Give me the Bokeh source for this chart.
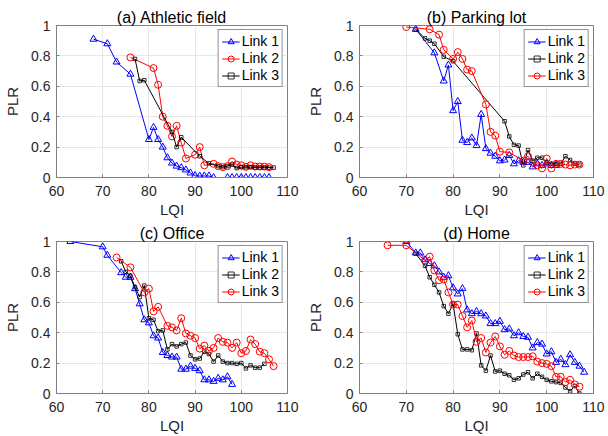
from bokeh.plotting import figure
from bokeh.layouts import gridplot
from bokeh.models import Range1d, FixedTicker
from bokeh.embed import file_html
from bokeh.resources import INLINE

FONT = "Liberation Sans"
X_TICKS = [60, 70, 80, 90, 100, 110]
Y_TICKS = [0, 0.2, 0.4, 0.6, 0.8, 1.0]
Y_TICK_LABELS = ["0", "0.2", "0.4", "0.6", "0.8", "1"]
TITLES = ["(a) Athletic field", "(b) Parking lot", "(c) Office", "(d) Home"]

# (a) Athletic field
A_L1_X = [68, 71, 73, 76, 80, 81, 82, 83, 84, 85, 86, 87, 88, 89, 90, 91, 92, 93, 94,
          97, 98, 99, 100, 101, 102, 103, 104, 105, 106]
A_L1_Y = [0.91, 0.88, 0.76, 0.68, 0.25, 0.33, 0.25, 0.20, 0.13, 0.095, 0.075, 0.065, 0.05,
          0.03, 0.013, 0.01, 0.01, 0.01, 0.0, 0, 0, 0, 0, 0, 0, 0, 0, 0, 0]
A_L2_X = [76, 81, 82, 83, 84, 85, 86, 87, 88, 90, 91, 92, 94, 95, 96, 97, 98, 99, 100,
          101, 102, 103, 104, 105, 106]
A_L2_Y = [0.79, 0.72, 0.61, 0.40, 0.34, 0.27, 0.34, 0.23, 0.125, 0.15, 0.20, 0.08, 0.09,
          0.075, 0.068, 0.075, 0.105, 0.085, 0.08, 0.07, 0.08, 0.072, 0.072, 0.072, 0.068]
A_L3_X = [77, 78, 79, 85, 86, 87, 91, 93, 95, 96, 97, 98, 99, 100, 101, 102, 103, 104,
          105, 106, 107]
A_L3_Y = [0.78, 0.635, 0.64, 0.30, 0.20, 0.265, 0.14, 0.093, 0.075, 0.068, 0.075, 0.085,
          0.062, 0.068, 0.068, 0.068, 0.066, 0.066, 0.066, 0.065, 0.065]

# (b) Parking lot
B_L1_X = [72, 76, 78, 79, 80, 81, 82, 83, 84, 85, 86, 87, 88, 89, 90, 91, 92, 93, 94, 95,
          96, 97, 98, 99, 100, 101, 102]
B_L1_Y = [0.975, 0.82, 0.635, 0.74, 0.44, 0.50, 0.245, 0.23, 0.26, 0.21, 0.415, 0.19, 0.16,
          0.14, 0.11, 0.115, 0.145, 0.09, 0.11, 0.10, 0.10, 0.07, 0.09, 0.08, 0.09, 0.08, 0.08]
B_L2_X = [72, 74, 75, 76, 78, 80, 91, 92, 93, 94, 95, 96, 97, 98, 99, 100, 101, 102, 103,
          104, 105, 106, 107]
B_L2_Y = [0.975, 0.915, 0.90, 0.88, 0.795, 0.765, 0.37, 0.27, 0.215, 0.21, 0.08, 0.18,
          0.11, 0.13, 0.13, 0.10, 0.09, 0.09, 0.09, 0.14, 0.115, 0.09, 0.085]
B_L3_X = [70, 75, 77, 78, 80, 81, 82, 83, 84, 87, 88, 89, 90, 92, 95, 96, 97, 98, 99, 100,
          101, 102, 103, 104, 105, 106, 107]
B_L3_Y = [0.99, 0.975, 0.94, 0.84, 0.78, 0.825, 0.78, 0.71, 0.70, 0.48, 0.30, 0.275, 0.17,
          0.165, 0.11, 0.14, 0.10, 0.08, 0.06, 0.125, 0.06, 0.09, 0.09, 0.085, 0.08, 0.085,
          0.085]

# (c) Office
C_L1_X = [63, 70, 71, 74, 75, 76, 77, 78, 79, 80, 81, 82, 83, 84, 85, 86, 87, 88, 89, 90,
          91, 92, 93, 94, 95, 96, 97, 98]
C_L1_Y = [1.0, 0.965, 0.91, 0.795, 0.765, 0.765, 0.69, 0.59, 0.485, 0.465, 0.38, 0.365,
          0.27, 0.25, 0.24, 0.24, 0.16, 0.16, 0.18, 0.165, 0.15, 0.09, 0.09, 0.08, 0.10,
          0.09, 0.11, 0.06]
C_L2_X = [74, 75, 76, 77, 78, 79, 80, 81, 82, 83, 84, 85, 86, 87, 88, 89, 90, 91, 92, 93,
          94, 95, 96, 97, 98, 99, 100, 101, 102, 103, 104, 105]
C_L2_Y = [0.87, 0.80, 0.775, 0.70, 0.635, 0.71, 0.495, 0.485, 0.41, 0.415, 0.29, 0.325,
          0.31, 0.325, 0.335, 0.25, 0.225, 0.23, 0.275, 0.26, 0.21, 0.25, 0.21, 0.20, 0.20,
          0.195, 0.20, 0.165, 0.185, 0.17, 0.17, 0.195]
C_L3_X = [73, 76, 79, 80, 81, 82, 84, 85, 86, 87, 88, 89, 90, 91, 92, 93, 94, 95, 96, 97,
          98, 99, 100, 101, 102, 103, 104, 105, 106, 107]
C_L3_Y = [0.895, 0.83, 0.665, 0.69, 0.54, 0.57, 0.445, 0.435, 0.415, 0.495, 0.395, 0.38,
          0.365, 0.295, 0.315, 0.28, 0.30, 0.365, 0.34, 0.335, 0.30, 0.335, 0.265, 0.28,
          0.355, 0.325, 0.275, 0.265, 0.225, 0.18]

# (d) Home
D_L1_X = [70, 72, 73, 74, 75, 76, 77, 78, 79, 80, 81, 82, 83, 84, 85, 86, 87, 88, 89, 90,
          91, 92, 93, 94, 95, 96, 97, 98, 99, 100, 101, 102, 103, 104, 105, 106, 107, 108]
D_L1_Y = [1.0, 0.925, 0.925, 0.88, 0.855, 0.84, 0.80, 0.765, 0.775, 0.695, 0.655, 0.69,
          0.55, 0.525, 0.54, 0.525, 0.51, 0.46, 0.46, 0.475, 0.42, 0.425, 0.38, 0.40, 0.375,
          0.37, 0.30, 0.335, 0.325, 0.26, 0.275, 0.205, 0.225, 0.19, 0.255, 0.205, 0.18, 0.14]
D_L2_X = [72, 74, 75, 76, 77, 78, 79, 80, 81, 82, 83, 84, 85, 86, 87, 88, 89, 90, 91, 92,
          93, 94, 95, 96, 97, 98, 99, 100, 101, 102, 103, 104, 105, 106, 107]
D_L2_Y = [0.92, 0.84, 0.765, 0.715, 0.665, 0.575, 0.525, 0.59, 0.39, 0.29, 0.29, 0.285,
          0.395, 0.185, 0.15, 0.25, 0.145, 0.15, 0.13, 0.12, 0.09, 0.10, 0.125, 0.14, 0.10,
          0.13, 0.11, 0.09, 0.08, 0.075, 0.07, 0.04, 0.015, 0.05, 0.0]
D_L3_X = [66, 70, 74, 75, 76, 77, 78, 79, 80, 81, 82, 83, 84, 85, 86, 87, 88, 89, 90, 91,
          92, 93, 94, 95, 96, 97, 98, 99, 100, 101, 102, 103, 104, 105, 106, 107]
D_L3_Y = [0.975, 0.975, 0.875, 0.90, 0.81, 0.745, 0.75, 0.665, 0.585, 0.585, 0.51, 0.435,
          0.48, 0.34, 0.365, 0.27, 0.335, 0.375, 0.31, 0.255, 0.28, 0.25, 0.24, 0.24, 0.24,
          0.245, 0.21, 0.20, 0.195, 0.18, 0.11, 0.11, 0.075, 0.09, 0.06, 0.045]

BLUE, RED, BLACK = "#0000ff", "#ff0000", "#000000"
STYLE_TRI = dict(color=BLUE, marker="triangle", size=7, width=1)
STYLE_CIR_R = dict(color=RED, marker="circle", size=7, width=1)
STYLE_SQ_K = dict(color=BLACK, marker="square", size=3.5, width=0.8)

PANELS = [
    (TITLES[0], [(A_L1_X, A_L1_Y, STYLE_TRI, "Link 1"),
                 (A_L2_X, A_L2_Y, STYLE_CIR_R, "Link 2"),
                 (A_L3_X, A_L3_Y, STYLE_SQ_K, "Link 3")]),
    (TITLES[1], [(B_L1_X, B_L1_Y, STYLE_TRI, "Link 1"),
                 (B_L2_X, B_L2_Y, STYLE_SQ_K, "Link 2"),
                 (B_L3_X, B_L3_Y, STYLE_CIR_R, "Link 3")]),
    (TITLES[2], [(C_L1_X, C_L1_Y, STYLE_TRI, "Link 1"),
                 (C_L2_X, C_L2_Y, STYLE_SQ_K, "Link 2"),
                 (C_L3_X, C_L3_Y, STYLE_CIR_R, "Link 3")]),
    (TITLES[3], [(D_L1_X, D_L1_Y, STYLE_TRI, "Link 1"),
                 (D_L2_X, D_L2_Y, STYLE_SQ_K, "Link 2"),
                 (D_L3_X, D_L3_Y, STYLE_CIR_R, "Link 3")]),
]

LAYOUT = [  # frame_width, border_left, border_right, border_top, border_bottom
    (231, 56, 17, 25, 44),
    (234, 47, 23, 25, 44),
    (231, 56, 17, 20, 43),
    (234, 47, 23, 20, 43),
]


def make_panel(title, series, lay):
    fw, bl, br, bt, bb = lay
    p = figure(frame_width=fw, frame_height=152, output_backend="svg",
               toolbar_location=None, x_range=Range1d(60, 110), y_range=Range1d(0, 1),
               min_border_left=bl, min_border_right=br, min_border_top=bt,
               min_border_bottom=bb, title=title)
    p.title.align = "center"
    p.title.text_font = FONT
    p.title.text_font_size = "16px"
    p.title.text_font_style = "normal"
    p.title.text_color = "#000000"
    p.title.standoff = 0
    p.title.offset = 0
    p.outline_line_color = "#808080"
    p.outline_line_width = 1
    p.background_fill_color = "white"
    p.border_fill_color = "white"
    for ax in (p.xaxis[0], p.yaxis[0]):
        ax.axis_line_color = "#808080"
        ax.major_tick_line_color = "#808080"
        ax.major_tick_in = 3
        ax.major_tick_out = 0
        ax.minor_tick_line_color = None
        ax.major_label_text_font = FONT
        ax.major_label_text_font_size = "14px"
        ax.major_label_text_color = "#262626"
        ax.axis_label_text_font = FONT
        ax.axis_label_text_font_size = "15px"
        ax.axis_label_text_font_style = "normal"
        ax.axis_label_text_color = "#262626"
    p.xaxis.ticker = FixedTicker(ticks=X_TICKS)
    p.yaxis.ticker = FixedTicker(ticks=Y_TICKS)
    p.yaxis.major_label_overrides = {t: l for t, l in zip(Y_TICKS, Y_TICK_LABELS)}
    p.xaxis.axis_label = "LQI"
    p.yaxis.axis_label = "PLR"
    p.xaxis.major_label_standoff = 8
    p.xaxis.axis_label_standoff = 2
    p.yaxis.major_label_standoff = 6
    p.yaxis.axis_label_standoff = 7
    p.xgrid.grid_line_color = "#e6e6e6"
    p.ygrid.grid_line_color = "#e6e6e6"

    for xs, ys, st, lab in series:
        p.line(xs, ys, line_color=st["color"], line_width=1, legend_label=lab)
        p.scatter(xs, ys, marker=st["marker"], size=st["size"], line_color=st["color"],
                  fill_alpha=0, line_width=st["width"], legend_label=lab)

    lg = p.legend[0]
    lg.location = "top_right"
    lg.border_line_color = "#262626"
    lg.border_line_width = 1
    lg.background_fill_alpha = 1
    lg.label_text_font = FONT
    lg.label_text_font_size = "14px"
    lg.label_text_color = "#000000"
    lg.glyph_width = 18
    lg.glyph_height = 15
    lg.label_height = 15
    lg.label_standoff = 2
    lg.spacing = 1
    lg.padding = 3
    lg.margin = 4
    return p


figs = [make_panel(t, s, lay) for (t, s), lay in zip(PANELS, LAYOUT)]
grid = gridplot([[figs[0], figs[1]], [figs[2], figs[3]]], toolbar_location=None)

open("out.html", "w").write(file_html(grid, INLINE))
